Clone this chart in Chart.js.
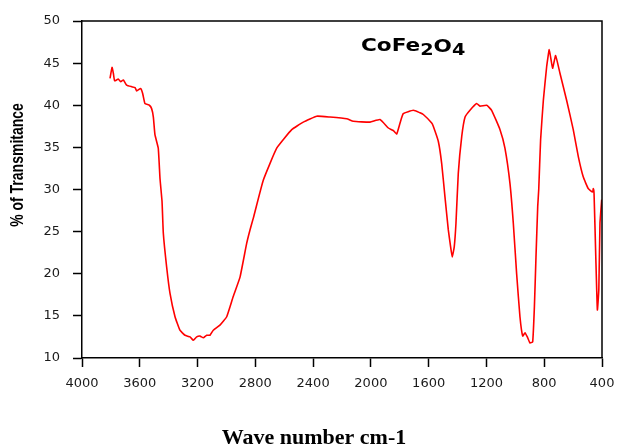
<!DOCTYPE html>
<html>
<head>
<meta charset="utf-8">
<script src="https://cdn.jsdelivr.net/npm/chart.js@4/dist/chart.umd.min.js"></script>
<style>
  html, body { margin: 0; padding: 0; background: #ffffff; }
  #c { display: block; }
</style>
</head>
<body>
<canvas id="c" width="617" height="447"></canvas>
<script>
// Wavenumber (cm-1)
const wavenumbers = [
  3806, 3792, 3783, 3774, 3749, 3732, 3714, 3691, 3656, 3633, 3621, 3594, 3580, 3564, 3534, 3518, 3506, 3495, 3472, 3460,
  3446, 3437, 3414, 3391, 3356, 3322, 3287, 3252, 3229, 3206, 3183, 3160, 3137, 3114, 3091, 3045, 2998, 2953, 2906, 2860,
  2837, 2814, 2745, 2652, 2548, 2468, 2375, 2283, 2167, 2122, 2006, 1937, 1879, 1845, 1821, 1798, 1776, 1706, 1660, 1637,
  1579, 1568, 1533, 1510, 1487, 1464, 1448, 1437, 1423, 1411, 1395, 1371, 1348, 1314, 1268, 1245, 1198, 1164, 1106, 1072,
  1037, 1014, 991, 968, 949, 933, 917, 899, 880, 868, 857, 845, 838, 825, 806, 783, 765, 742, 721, 691,
  645, 599, 564, 530, 495, 465, 460, 455, 443, 432, 422, 414, 402
];
// % Transmittance
const transmittance = [
  43.2, 44.5, 43.8, 42.9, 43.1, 42.8, 43.0, 42.4, 42.2, 42.1, 41.7, 42.0, 41.4, 40.2, 40.0, 39.6, 38.6, 36.5, 34.9, 31.3,
  28.6, 24.8, 20.8, 17.7, 14.9, 13.3, 12.7, 12.5, 12.1, 12.5, 12.6, 12.4, 12.7, 12.7, 13.3, 13.9, 14.9, 17.3, 19.6, 23.6,
  25.2, 26.6, 31.1, 34.9, 37.1, 38.0, 38.7, 38.6, 38.4, 38.1, 38.0, 38.3, 37.3, 37.0, 36.6, 37.9, 39.0, 39.4, 39.1, 38.9,
  37.9, 37.5, 35.7, 33.1, 29.1, 25.2, 23.2, 22.0, 23.2, 26.0, 31.9, 36.3, 38.6, 39.4, 40.2, 39.9, 40.0, 39.4, 37.1, 34.9,
  30.7, 26.0, 20.0, 14.9, 12.6, 13.0, 12.5, 11.8, 11.9, 16.1, 22.0, 28.0, 30.0, 35.9, 40.6, 44.6, 46.6, 44.4, 45.9, 43.8,
  40.6, 37.1, 33.9, 31.5, 30.1, 29.7, 30.1, 29.5, 22.0, 15.7, 18.1, 26.0, 28.8
];
const xTicks = [4000, 3600, 3200, 2800, 2400, 2000, 1600, 1200, 800, 400];
const yTicks = [10, 15, 20, 25, 30, 35, 40, 45, 50];
const titleParts = ['CoFe', '2', 'O', '4'];
const xTitle = 'Wave number cm-1';
const yTitle = '% of Transmitance';

const points = wavenumbers.map((w, i) => ({ x: w, y: transmittance[i] }));

const decor = {
  id: 'decor',
  afterDraw(chart) {
    const ctx = chart.ctx;
    const a = chart.chartArea;
    ctx.save();
    // frame top & right
    ctx.strokeStyle = '#000';
    ctx.lineWidth = 1.5;
    ctx.beginPath();
    ctx.moveTo(a.left, a.top);
    ctx.lineTo(a.right, a.top);
    ctx.lineTo(a.right, a.bottom);
    ctx.stroke();

    // chart title CoFe2O4
    ctx.fillStyle = '#000';
    ctx.textBaseline = 'alphabetic';
    ctx.textAlign = 'left';
    const sx = 1.2;
    const specs = [
      { size: 18, dy: 0 },
      { size: 16, dy: 4 },
      { size: 18, dy: 1 },
      { size: 16, dy: 4 }
    ];
    ctx.save();
    ctx.translate(361, 51);
    ctx.scale(sx, 1);
    let cx = 0;
    titleParts.forEach((t, i) => {
      ctx.font = 'bold ' + specs[i].size + 'px "DejaVu Sans", Arial, sans-serif';
      ctx.fillText(t, cx, specs[i].dy);
      cx += ctx.measureText(t).width;
    });
    ctx.restore();

    // x axis title
    ctx.font = 'bold 22px "Liberation Serif", "Times New Roman", serif';
    ctx.textAlign = 'center';
    ctx.textBaseline = 'alphabetic';
    ctx.fillText(xTitle, 314, 444);

    // y axis title
    ctx.save();
    ctx.translate(18, 165);
    ctx.rotate(-Math.PI / 2);
    ctx.scale(1, 1.35);
    ctx.font = 'bold 14px "Liberation Sans", Arial, sans-serif';
    ctx.textAlign = 'center';
    ctx.textBaseline = 'middle';
    ctx.fillText(yTitle, 0, 0);
    ctx.restore();
    ctx.restore();
  }
};

new Chart(document.getElementById('c'), {
  type: 'line',
  data: {
    datasets: [{
      data: points,
      borderColor: '#ff0000',
      borderWidth: 1.6,
      pointRadius: 0,
      tension: 0.12,
      fill: false
    }]
  },
  options: {
    responsive: false,
    devicePixelRatio: 1,
    animation: false,
    layout: { padding: { left: 0, right: 15, top: 21, bottom: 0 } },
    plugins: {
      legend: { display: false },
      tooltip: { enabled: false },
      title: { display: false }
    },
    scales: {
      x: {
        type: 'linear',
        reverse: true,
        min: 400,
        max: 4000,
        afterBuildTicks(scale) { scale.ticks = xTicks.map(v => ({ value: v })); },
        afterFit(scale) { scale.height = 89; scale.paddingLeft = 0; scale.paddingRight = 0; },
        ticks: {
          color: '#1a1a1a',
          font: { family: '"DejaVu Sans", Arial, sans-serif', size: 13 },
          padding: 9,
          maxRotation: 0,
          autoSkip: false,
          callback: v => String(v)
        },
        grid: { display: true, drawOnChartArea: false, drawTicks: true, tickLength: 9, tickColor: '#000', tickWidth: 1.5 },
        border: { display: true, color: '#000', width: 1.5 }
      },
      y: {
        min: 10,
        max: 50,
        afterBuildTicks(scale) { scale.ticks = yTicks.map(v => ({ value: v })); },
        afterFit(scale) { scale.width = 82; },
        ticks: {
          color: '#1a1a1a',
          font: { family: '"DejaVu Sans", Arial, sans-serif', size: 13 },
          padding: 13,
          autoSkip: false,
          callback: v => String(v)
        },
        grid: { display: true, drawOnChartArea: false, drawTicks: true, tickLength: 9, tickColor: '#000', tickWidth: 1.5 },
        border: { display: true, color: '#000', width: 1.5 }
      }
    }
  },
  plugins: [decor]
});
</script>
</body>
</html>
